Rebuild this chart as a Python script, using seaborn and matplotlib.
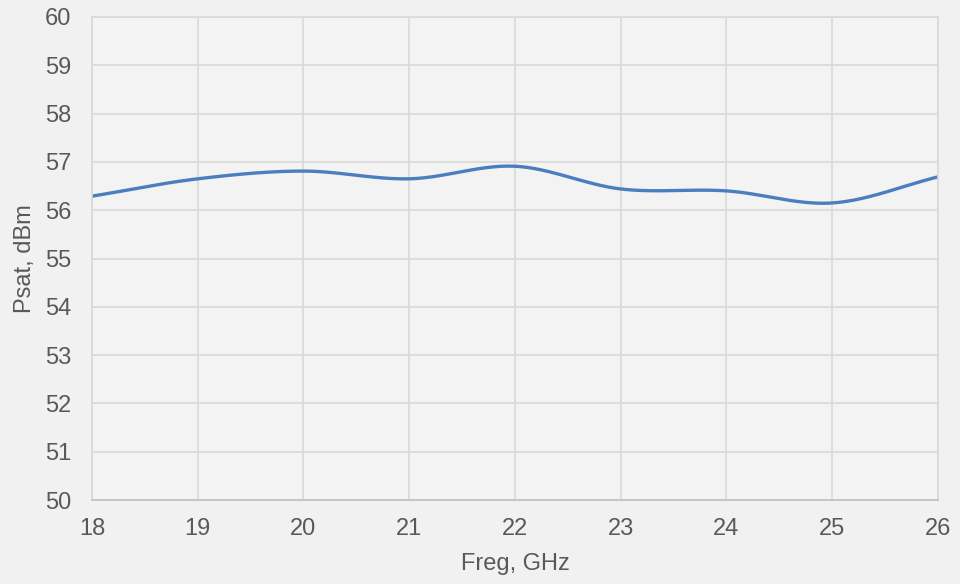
import numpy as np
import pandas as pd
import matplotlib
matplotlib.use("Agg")
import matplotlib.pyplot as plt
import seaborn as sns

# =========================================
# DATA
# =========================================

freq = [18, 19, 20, 21, 22, 23, 24, 25, 26]
psat = [56.29, 56.65, 56.81, 56.65, 56.91, 56.44, 56.40, 56.15, 56.69]

x_ticks = list(range(18, 27))
y_ticks = list(range(50, 61))


# =========================================
# SMOOTH CURVE (Excel-style Catmull-Rom)
# =========================================

def catmull_rom(xs, ys, n=40):
    px = np.array(xs, dtype=float)
    py = np.array(ys, dtype=float)
    px = np.concatenate([[2 * px[0] - px[1]], px, [2 * px[-1] - px[-2]]])
    py = np.concatenate([[2 * py[0] - py[1]], py, [2 * py[-1] - py[-2]]])
    out_x, out_y = [], []
    for i in range(1, len(px) - 2):
        t = np.linspace(0, 1, n, endpoint=False)
        for arr, out in ((px, out_x), (py, out_y)):
            p0, p1, p2, p3 = arr[i - 1], arr[i], arr[i + 1], arr[i + 2]
            out.extend(0.5 * ((2 * p1) + (-p0 + p2) * t
                              + (2 * p0 - 5 * p1 + 4 * p2 - p3) * t ** 2
                              + (-p0 + 3 * p1 - 3 * p2 + p3) * t ** 3))
    out_x.append(xs[-1])
    out_y.append(ys[-1])
    return out_x, out_y


sx, sy = catmull_rom(freq, psat)
curve = pd.DataFrame({"Freq": sx, "Psat": sy})


# =========================================
# PLOT
# =========================================

sns.set_style("whitegrid")
plt.rcParams["font.family"] = ["Liberation Sans", "DejaVu Sans"]

fig = plt.figure(figsize=(9.6, 5.84), dpi=100, facecolor="#f1f1f1")
ax = fig.add_axes([0.0958, 0.1438, 0.8812, 0.8271])
ax.set_facecolor("#f3f3f3")

sns.lineplot(
    data=curve,
    x="Freq",
    y="Psat",
    sort=False,
    color="#4a7ebf",
    linewidth=2.4,
    ax=ax
)

ax.set_xlim(18, 26)
ax.set_ylim(50, 60)
ax.set_xticks(x_ticks)
ax.set_yticks(y_ticks)

ax.grid(True, color="#d9d9d9", linewidth=1.2)
for s in ax.spines.values():
    s.set_color("#d9d9d9")
    s.set_linewidth(1.2)
ax.spines["bottom"].set_color("#bfbfbf")

ax.tick_params(axis="y", length=0, labelsize=17,
               labelcolor="#595959", pad=15)
ax.tick_params(axis="x", length=0, labelsize=17,
               labelcolor="#595959", pad=13)

ax.set_xlabel("Freg, GHz", fontsize=17, color="#595959", labelpad=9)
ax.set_ylabel("Psat, dBm", fontsize=17, color="#595959", labelpad=6)

fig.savefig("out.png", dpi=100, facecolor=fig.get_facecolor())
